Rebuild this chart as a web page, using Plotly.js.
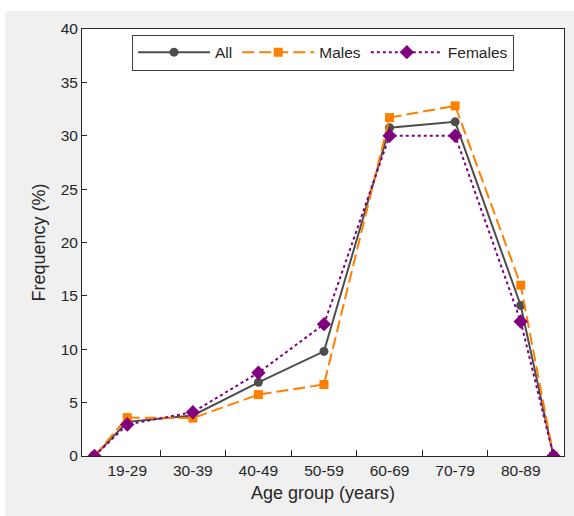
<!DOCTYPE html>
<html>
<head>
<meta charset="utf-8">
<script src="https://cdn.plot.ly/plotly-3.0.1.min.js"></script>
<style>
html, body { margin: 0; padding: 0; background: #ffffff; width: 574px; height: 516px; overflow: hidden; }
#chart { position: absolute; left: 5px; top: 11px; width: 569px; height: 505px; }
</style>
</head>
<body>
<div id="chart"></div>
<script>
// Age group categories (tick labels)
const ageGroups = ['19-29', '30-39', '40-49', '50-59', '60-69', '70-79', '80-89'];
// x positions of points: category centres plus half-step end points
const xPositions = [0.5, 1, 2, 3, 4, 5, 6, 7, 7.5];
// category boundaries (tick marks)
const boundaries = [1.5, 2.5, 3.5, 4.5, 5.5, 6.5];

// Frequency (%) values
const allValues     = [0, 3.2, 3.8, 6.9, 9.8, 30.75, 31.3, 14.1, 0];
const maleValues    = [0, 3.6, 3.55, 5.75, 6.7, 31.7, 32.8, 16.0, 0];
const femaleValues  = [0, 2.95, 4.1, 7.8, 12.35, 30.0, 30.0, 12.6, 0];

const traces = [
  {
    name: 'All', x: xPositions, y: allValues, type: 'scatter', mode: 'lines+markers',
    line: { color: '#4d4d4d', width: 2 },
    marker: { symbol: 'circle', size: 9, color: '#4d4d4d' }
  },
  {
    name: 'Males', x: xPositions, y: maleValues, type: 'scatter', mode: 'lines+markers',
    line: { color: '#ff7f00', width: 2, dash: '12px,5px' },
    marker: { symbol: 'square', size: 9, color: '#ff7f00' }
  },
  {
    name: 'Females', x: xPositions, y: femaleValues, type: 'scatter', mode: 'lines+markers',
    line: { color: '#800080', width: 2, dash: '3px,3px' },
    marker: { symbol: 'diamond', size: 11, color: '#800080' }
  }
];

const axisColor = '#262626';
const layout = {
  width: 569, height: 505,
  paper_bgcolor: '#f0f0f0',
  plot_bgcolor: '#ffffff',
  font: { family: 'Liberation Sans, Arial, sans-serif', size: 15, color: '#262626' },
  margin: { l: 76.7, r: 10, t: 18, b: 60.3 },
  showlegend: true,
  legend: {
    orientation: 'h', x: 0.5, xanchor: 'center', y: 0.987, yanchor: 'top',
    bgcolor: '#ffffff', bordercolor: '#404040', borderwidth: 1,
    font: { size: 15.5, color: '#262626' },
    itemwidth: 72, traceorder: 'normal'
  },
  xaxis: {
    range: [0.31, 7.66],
    tickmode: 'array', tickvals: [1, 2, 3, 4, 5, 6, 7], ticktext: ageGroups,
    ticks: '', showgrid: false, zeroline: false,
    showline: true, linecolor: axisColor, linewidth: 1, mirror: true,
    tickfont: { size: 15.5, color: '#262626' },
    minor: { tickmode: 'array', tickvals: boundaries, ticks: 'inside', ticklen: 6, tickcolor: axisColor, tickwidth: 1, showgrid: false },
    title: { text: 'Age group (years)', font: { size: 18, color: '#262626' }, standoff: 8 }
  },
  yaxis: {
    range: [0, 40], dtick: 5, tick0: 0,
    ticks: 'inside', ticklen: 5, tickcolor: axisColor,
    showgrid: false, zeroline: false,
    showline: true, linecolor: axisColor, linewidth: 1, mirror: true,
    tickfont: { size: 15.5, color: '#262626' },
    title: { text: 'Frequency (%)', font: { size: 18, color: '#262626' }, standoff: 10 }
  }
};

Plotly.newPlot('chart', traces, layout, { displayModeBar: false, staticPlot: true });
</script>
</body>
</html>
